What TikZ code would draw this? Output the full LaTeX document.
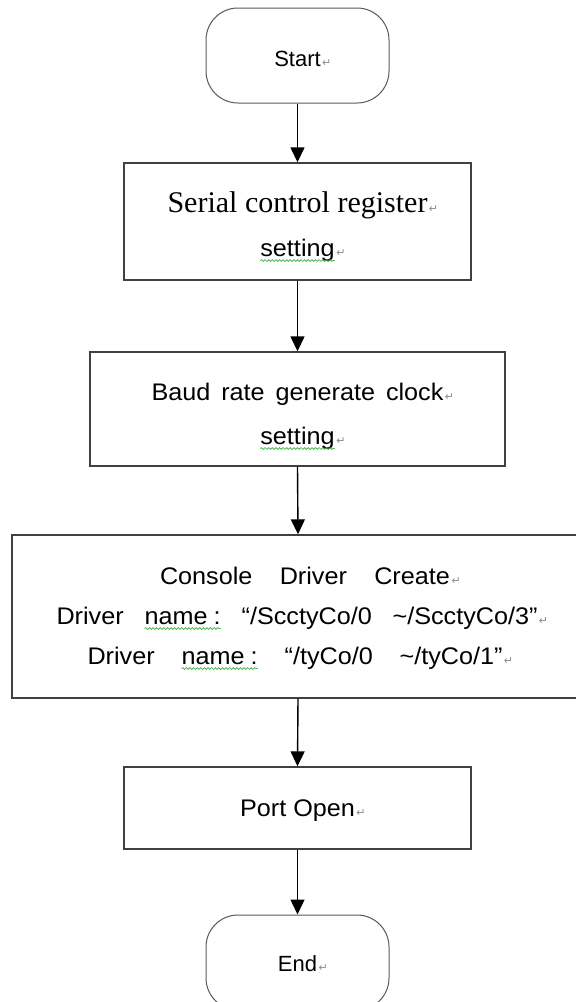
\documentclass[tikz,border=0pt]{standalone}
\usepackage{fontspec}
\setmainfont{Liberation Sans}[FakeStretch=1.05]
\newfontfamily\plainsans{Liberation Sans}
\newfontfamily\serifface{Liberation Serif}
\newfontfamily\markfont{DejaVu Sans}
\usetikzlibrary{arrows.meta,decorations.pathmorphing}
\definecolor{boxline}{HTML}{404040}
\definecolor{termline}{HTML}{5A5A5A}
\definecolor{wavegreen}{HTML}{3CB043}
\definecolor{markgrey}{HTML}{8C8C8C}
\newcommand\retmark{\rlap{\hspace{1.5pt}{\markfont\fontsize{11}{11}\selectfont\textcolor{markgrey}{↵}}}}
\newcommand\gwave[1]{\tikz[baseline=(gw.base)]{\node[inner sep=0pt,outer sep=0pt,anchor=base,draw=none](gw){#1};\draw[wavegreen,line width=0.7pt,decorate,decoration={snake,amplitude=0.9pt,segment length=3.6pt}]([yshift=-4.5pt]gw.base west)--([yshift=-4.5pt]gw.base east);}}
\begin{document}
\begin{tikzpicture}[x=1pt,y=-1pt,
  terminal/.style={draw=termline, line width=1pt, rounded corners=32pt, minimum width=183pt, minimum height=95pt, inner sep=0pt},
  procbox/.style={draw=boxline, line width=1.4pt, inner sep=0pt},
  lbl/.style={inner sep=0pt, outer sep=0pt, anchor=base, font=\fontsize{24}{28}\selectfont},
  plainlbl/.style={lbl, font=\plainsans\fontsize{22}{26}\selectfont},
  seriflbl/.style={lbl, font=\serifface\fontsize{30}{34}\selectfont},
  flow/.style={line width=1.4pt, -{Triangle[length=15pt,width=14pt]}}]
\useasboundingbox (0,0) rectangle (576,1002);
\fill[white] (0,0) rectangle (576,1002);
% shapes
\node[terminal] (start) at (297.5,55.5) {};
\node[procbox, minimum width=347pt, minimum height=117pt] (serial) at (297.5,221.5) {};
\node[procbox, minimum width=415pt, minimum height=114pt] (baud) at (297.5,409) {};
\node[procbox, minimum width=572pt, minimum height=163pt] (console) at (298,616.5) {};
\node[procbox, minimum width=347pt, minimum height=82pt] (port) at (297.5,808) {};
\node[terminal] (end) at (297.5,962.5) {};
% texts
\node[plainlbl] (tstart) at (297.5,66) {Start\retmark};
\node[seriflbl] (tserial) at (297.5,212) {Serial control register\retmark};
\node[lbl] (tset1) at (297.5,256) {\gwave{setting}\retmark};
\node[lbl] (tbaud) at (297.5,400) {\makebox[292pt][s]{Baud rate generate clock}\retmark};
\node[lbl] (tset2) at (297.5,444) {\gwave{setting}\retmark};
\node[lbl] (tcons) at (305,584) {\makebox[290pt][s]{Console Driver Create}\retmark};
\node[lbl] (tdrv1) at (297,624) {\makebox[481pt][s]{Driver \gwave{name\hspace{6pt}:} “/ScctyCo/0 \textasciitilde/ScctyCo/3”}\retmark};
\node[lbl] (tdrv2) at (295,664) {\makebox[415pt][s]{Driver \gwave{name\hspace{6pt}:} “/tyCo/0 \textasciitilde/tyCo/1”}\retmark};
\node[lbl] (tport) at (297.5,816) {Port Open\retmark};
\node[plainlbl] (tend) at (297.5,971) {End\retmark};
% connectors
\draw[flow] (start.south) -- (serial.north);
\draw[flow] (serial.south) -- (baud.north);
\draw[flow] (baud.south) -- (console.north);
\draw[flow] (console.south) -- (port.north);
\draw[flow] (port.south) -- (end.north);
\end{tikzpicture}
\end{document}
